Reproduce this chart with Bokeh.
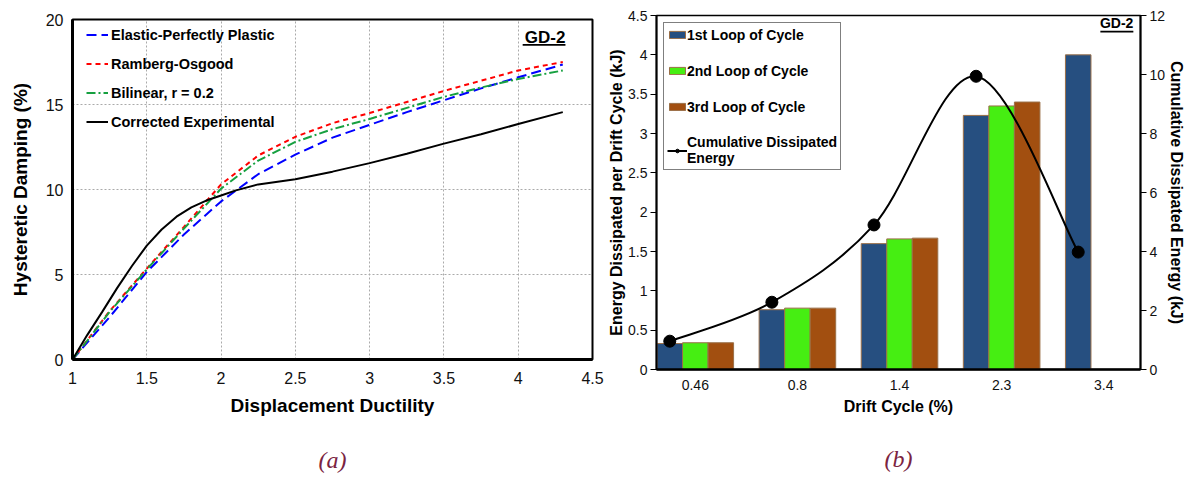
from bokeh.plotting import figure
from bokeh.layouts import row
from bokeh.models import (Range1d, LinearAxis, Legend, LegendItem, Label, Title,
                          BoxAnnotation, FixedTicker, NumeralTickFormatter)
from bokeh.embed import file_html
from bokeh.resources import INLINE

# ---------------- Panel (a) data ----------------
ductility = [1.0, 1.25, 1.5, 1.75, 2.0, 2.25, 2.5, 2.75, 3.0, 3.25, 3.5, 3.75, 4.0, 4.3]
epp_damping = [0, 2.5, 5.15, 7.35, 9.3, 10.9, 12.05, 13.05, 13.8, 14.55, 15.25, 15.95, 16.6, 17.35]
ro_damping = [0, 2.85, 5.35, 7.8, 10.3, 12.0, 13.1, 13.9, 14.5, 15.15, 15.8, 16.4, 17.0, 17.5]
bil_damping = [0, 2.8, 5.3, 7.7, 10.05, 11.7, 12.8, 13.55, 14.15, 14.8, 15.45, 16.0, 16.5, 17.0]
exp_ductility = [1.0, 1.1, 1.2, 1.3, 1.4, 1.5, 1.6, 1.7, 1.8, 1.9, 2.0, 2.1, 2.25, 2.5,
                 2.75, 3.0, 3.25, 3.5, 3.75, 4.0, 4.3]
exp_damping = [0, 1.45, 2.8, 4.2, 5.5, 6.7, 7.65, 8.4, 8.95, 9.35, 9.65, 9.95, 10.3, 10.6,
               11.05, 11.55, 12.1, 12.7, 13.25, 13.85, 14.55]
x_ticks_a = [1, 1.5, 2, 2.5, 3, 3.5, 4, 4.5]
y_ticks_a = [0, 5, 10, 15, 20]

# ---------------- Panel (b) data ----------------
drift_labels = ["0.46", "0.8", "1.4", "2.3", "3.4"]
loop1 = [0.33, 0.76, 1.60, 3.23, 4.00]
loop2 = [0.34, 0.78, 1.66, 3.35]
loop3 = [0.34, 0.78, 1.67, 3.40]
cum_energy = [0.96, 2.28, 4.90, 9.94, 3.98]
y_ticks_b = [0, 0.5, 1, 1.5, 2, 2.5, 3, 3.5, 4, 4.5]
y2_ticks_b = [0, 2, 4, 6, 8, 10, 12]

FONT = "Liberation Sans"
CAP_COLOR = "#7b2341"

# ================= Panel (a) =================
p1 = figure(width=605, height=479, x_range=Range1d(1, 4.5), y_range=Range1d(0, 20),
            output_backend="svg", toolbar_location=None,
            min_border_left=72, min_border_right=13, min_border_top=19, min_border_bottom=120)
p1.frame_align = False
p1.outline_line_color = "black"
p1.outline_line_width = 2
p1.background_fill_color = "white"
p1.border_fill_color = "white"

for ax in (p1.xaxis[0], p1.yaxis[0]):
    ax.major_tick_out = 0
    ax.major_tick_in = 0
    ax.minor_tick_out = 0
    ax.minor_tick_in = 0
    ax.axis_line_width = 3
    ax.axis_line_color = "black"
    ax.major_label_text_font = FONT
    ax.major_label_text_font_size = "16px"
    ax.major_label_text_color = "#111111"
    ax.axis_label_text_font = FONT
    ax.axis_label_text_font_style = "bold"
    ax.axis_label_text_font_size = "19px"
    ax.axis_label_text_color = "black"

p1.xaxis.ticker = FixedTicker(ticks=x_ticks_a)
p1.xaxis.formatter = NumeralTickFormatter(format="0.[0]")
p1.yaxis.ticker = FixedTicker(ticks=y_ticks_a)
p1.xaxis.axis_label = "Displacement Ductility"
p1.yaxis.axis_label = "Hysteretic Damping (%)"
p1.xaxis.major_label_standoff = 12
p1.xaxis.axis_label_standoff = 8
p1.yaxis.major_label_standoff = 9
p1.yaxis.axis_label_standoff = 12

p1.grid.grid_line_color = "#aaaaaa"
p1.grid.grid_line_dash = "2 2"
p1.grid.grid_line_width = 1

r_epp = p1.line(ductility, epp_damping, line_color="#0000ff", line_width=2, line_dash="10 5")
r_ro = p1.line(ductility, ro_damping, line_color="#ff0000", line_width=2, line_dash="5 4")
r_bil = p1.line(ductility, bil_damping, line_color="#16a040", line_width=2, line_dash="9 3 2 3")
r_exp = p1.line(exp_ductility, exp_damping, line_color="black", line_width=2)

leg1 = Legend(items=[
    LegendItem(label="Elastic-Perfectly Plastic", renderers=[r_epp]),
    LegendItem(label="Ramberg-Osgood", renderers=[r_ro]),
    LegendItem(label="Bilinear, r = 0.2", renderers=[r_bil]),
    LegendItem(label="Corrected Experimental", renderers=[r_exp]),
], location=(14, 229), padding=0, spacing=12, label_height=17, glyph_height=17,
    glyph_width=22, label_standoff=3, border_line_alpha=0, background_fill_alpha=0,
    label_text_font=FONT, label_text_font_style="bold", label_text_font_size="14.5px",
    label_text_color="black")
p1.add_layout(leg1)

p1.add_layout(Label(x=4.318, y=18.94, text="GD-2", text_align="right", text_baseline="middle",
                    text_font=FONT, text_font_style="bold", text_font_size="17px",
                    text_color="black"))
p1.add_layout(BoxAnnotation(left=4.03, right=4.318, bottom=18.46, top=18.56,
                            fill_color="black", fill_alpha=1, line_alpha=0))

# spacer then caption below the axis
p1.add_layout(Title(text=" ", text_font_size="8px", standoff=12), "below")
p1.add_layout(Title(text="(a)", align="center", text_font="Liberation Serif",
                    text_font_style="italic", text_font_size="24px", text_color=CAP_COLOR,
                    standoff=6), "below")

# ================= Panel (b) =================
p2 = figure(width=590, height=479, x_range=Range1d(-0.38, 4.36), y_range=Range1d(0, 4.5),
            output_backend="svg", toolbar_location=None,
            min_border_left=51, min_border_right=55, min_border_top=15, min_border_bottom=110)
p2.frame_align = False
p2.extra_y_ranges = {"cum": Range1d(0, 12)}
p2.grid.visible = False
p2.outline_line_color = "black"
p2.outline_line_width = 1.5
p2.background_fill_color = "white"
p2.border_fill_color = "white"

bar_w = 0.25
bar_line = "#9a6f48"
b1 = p2.vbar(x=[i - bar_w for i in range(len(loop1))], top=loop1, width=bar_w,
             fill_color="#264f80", line_color=bar_line, line_width=1)
b2 = p2.vbar(x=[i for i in range(len(loop2))], top=loop2, width=bar_w,
             fill_color="#46ee12", line_color=bar_line, line_width=1)
b3 = p2.vbar(x=[i + bar_w for i in range(len(loop3))], top=loop3, width=bar_w,
             fill_color="#a24f10", line_color=bar_line, line_width=1)

# smoothed (Excel-style) curve through the cumulative points
cx = [i - bar_w for i in range(len(cum_energy))]
pts = list(zip(cx, cum_energy))
n = len(pts)
bx0, by0, bx1, by1, bcx0, bcy0, bcx1, bcy1 = [], [], [], [], [], [], [], []
for i in range(n - 1):
    pm = pts[max(i - 1, 0)]
    pa = pts[i]
    pb = pts[i + 1]
    pn = pts[min(i + 2, n - 1)]
    bx0.append(pa[0]); by0.append(pa[1])
    bx1.append(pb[0]); by1.append(pb[1])
    bcx0.append(pa[0] + (pb[0] - pm[0]) / 6); bcy0.append(pa[1] + (pb[1] - pm[1]) / 6)
    bcx1.append(pb[0] - (pn[0] - pa[0]) / 6); bcy1.append(pb[1] - (pn[1] - pa[1]) / 6)
r_curve = p2.bezier(x0=bx0, y0=by0, x1=bx1, y1=by1, cx0=bcx0, cy0=bcy0, cx1=bcx1, cy1=bcy1,
                    line_color="black", line_width=2, y_range_name="cum")
r_pts = p2.scatter(cx, cum_energy, size=12, fill_color="black", line_color="black",
                   y_range_name="cum")

p2.xaxis.ticker = FixedTicker(ticks=list(range(len(drift_labels))))
p2.xaxis.major_label_overrides = {i: lbl for i, lbl in enumerate(drift_labels)}
p2.xaxis.axis_label = "Drift Cycle (%)"
p2.yaxis.ticker = FixedTicker(ticks=y_ticks_b)
p2.yaxis.formatter = NumeralTickFormatter(format="0.[0]")
p2.yaxis.axis_label = "Energy Dissipated per Drift Cycle (kJ)"

ax2r = LinearAxis(y_range_name="cum", ticker=FixedTicker(ticks=y2_ticks_b),
                  axis_label="Cumulative Dissipated Energy (kJ)")
p2.add_layout(ax2r, "right")

for ax in (p2.xaxis[0], p2.yaxis[0], ax2r):
    ax.major_tick_out = 6
    ax.major_tick_in = 0
    ax.minor_tick_out = 0
    ax.minor_tick_in = 0
    ax.axis_line_width = 2
    ax.axis_line_color = "black"
    ax.major_tick_line_color = "black"
    ax.major_label_text_font = FONT
    ax.major_label_text_font_size = "14px"
    ax.major_label_text_color = "#111111"
    ax.axis_label_text_font = FONT
    ax.axis_label_text_font_style = "bold"
    ax.axis_label_text_font_size = "16px"
    ax.axis_label_text_color = "black"
    ax.major_label_standoff = 5
    ax.axis_label_standoff = 4

p2.yaxis.major_label_standoff = 3
p2.yaxis.axis_label_standoff = 0
p2.xaxis.major_tick_out = 0
p2.xaxis.major_label_standoff = 10
p2.xaxis.axis_label_standoff = 5
p2.xaxis.axis_line_width = 2.5

leg2 = Legend(items=[
    LegendItem(label="1st Loop of Cycle", renderers=[b1]),
    LegendItem(label="2nd Loop of Cycle", renderers=[b2]),
    LegendItem(label="3rd Loop of Cycle", renderers=[b3]),
    LegendItem(label="Cumulative Dissipated\nEnergy", renderers=[r_curve, r_pts]),
], location="top_left", margin=7, padding=3, spacing=19, label_height=17, glyph_height=9,
    glyph_width=20, label_standoff=0, border_line_color="black", border_line_width=1,
    background_fill_color="white", background_fill_alpha=1,
    label_text_font=FONT, label_text_font_style="bold", label_text_font_size="14px",
    label_text_color="black")
p2.add_layout(leg2)

p2.add_layout(Label(x=4.29, y=4.40, text="GD-2", text_align="right", text_baseline="middle",
                    text_font=FONT, text_font_style="bold", text_font_size="14px",
                    text_color="black"))
p2.add_layout(BoxAnnotation(left=3.967, right=4.29, bottom=4.285, top=4.305,
                            fill_color="black", fill_alpha=1, line_alpha=0))

p2.add_layout(Title(text=" ", text_font_size="8px", standoff=12), "below")
p2.add_layout(Title(text="(b)", align="center", text_font="Liberation Serif",
                    text_font_style="italic", text_font_size="24px", text_color=CAP_COLOR,
                    standoff=6), "below")

layout = row(p1, p2)
open("out.html", "w").write(file_html(layout, INLINE))
